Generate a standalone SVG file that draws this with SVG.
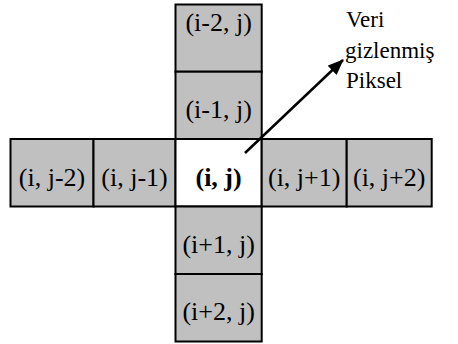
<svg xmlns="http://www.w3.org/2000/svg" width="458" height="344" viewBox="0 0 458 344">
<style>
.c{fill:#c0c0c0;stroke:#000;stroke-width:2}
.w{fill:#fff;stroke:#000;stroke-width:2}
.t{text-anchor:middle}
</style>
<defs>
<marker id="ah" markerWidth="16" markerHeight="13" refX="15" refY="6.5" orient="auto" markerUnits="userSpaceOnUse" viewBox="0 0 16 13">
<path d="M0,0 L16,6.5 L0,13 Z" fill="#000"/>
</marker>
</defs>
<g font-family="'Liberation Serif', 'Times New Roman', serif" font-size="26" fill="#000">
<g id="n-im2"><rect class="c" x="175.5" y="4.5" width="86.2" height="67.2"/><text class="t" x="218.6" y="31">(i-2, j)</text></g>
<g id="n-im1"><rect class="c" x="175.5" y="71.7" width="86.2" height="67.3"/><text class="t" x="218.6" y="118">(i-1, j)</text></g>
<g id="n-jm2"><rect class="c" x="10.5" y="139" width="83" height="67.5"/><text class="t" x="52" y="186">(i, j-2)</text></g>
<g id="n-jm1"><rect class="c" x="93.5" y="139" width="82" height="67.5"/><text class="t" x="134.5" y="186">(i, j-1)</text></g>
<g id="n-c"><rect class="w" x="175.5" y="139" width="86.2" height="67.5"/><text class="t" x="218.6" y="186" font-weight="bold">(i, j)</text></g>
<g id="n-jp1"><rect class="c" x="261.7" y="139" width="85" height="67.5"/><text class="t" x="304.2" y="186">(i, j+1)</text></g>
<g id="n-jp2"><rect class="c" x="346.7" y="139" width="85" height="67.5"/><text class="t" x="389.2" y="186">(i, j+2)</text></g>
<g id="n-ip1"><rect class="c" x="175.5" y="206.5" width="86.2" height="67.5"/><text class="t" x="218.6" y="253">(i+1, j)</text></g>
<g id="n-ip2"><rect class="c" x="175.5" y="274" width="86.2" height="67.5"/><text class="t" x="218.6" y="320">(i+2, j)</text></g>
<g id="n-label" font-size="23"><text x="346" y="27">Veri</text><text x="345" y="58">gizlenmiş</text><text x="346" y="88">Piksel</text></g>
</g>
<g id="connectors"><line x1="245" y1="153" x2="343" y2="60" stroke="#000" stroke-width="2.5" marker-end="url(#ah)"/></g>
</svg>
